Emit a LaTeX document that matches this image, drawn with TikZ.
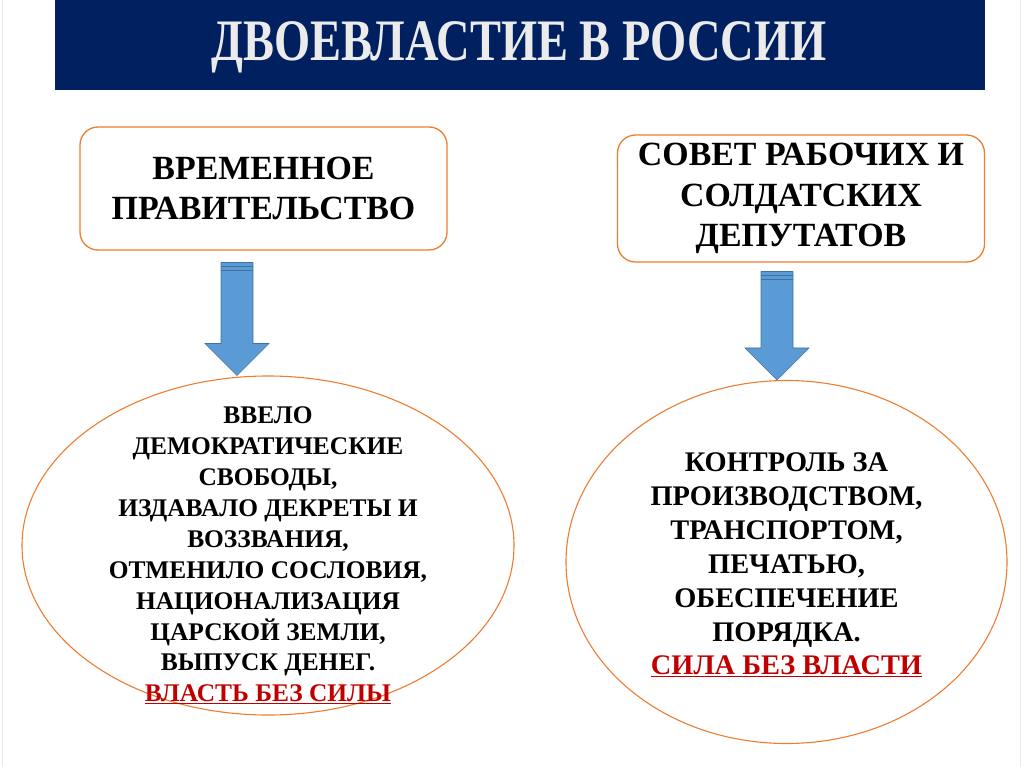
\documentclass[tikz,border=0pt]{standalone}
\usepackage{fontspec}
\setmainfont{Liberation Serif}
\usetikzlibrary{shapes.geometric,calc,positioning}

\definecolor{titlenavy}{HTML}{002060}
\definecolor{boxorange}{HTML}{ED7D31}
\definecolor{arrowblue}{HTML}{5B9BD5}
\definecolor{arrowedge}{HTML}{41719C}
\definecolor{slogred}{HTML}{C00000}

\tikzset{
  orgbox/.style={draw=boxorange, line width=1.3bp, rounded corners=18bp, fill=white,
    minimum width=367bp, minimum height=123bp, inner sep=2bp, align=center,
    font=\fontsize{34}{40}\selectfont\bfseries},
  resultoval/.style={draw=boxorange, line width=1.1bp, ellipse, inner sep=0pt},
  bodytext/.style={align=center, inner sep=0pt},
  blockarrow/.style={fill=arrowblue, draw=arrowedge, line width=0.6bp},
}

% block arrow from #1 (top of shaft) down to #2 (tip)
\newcommand{\powerarrow}[2]{%
  \draw[blockarrow] let \p1=(#1), \p2=(#2) in
    (\x1-16bp,\y1) -- (\x1+16bp,\y1) -- (\x1+16bp,\y2+32bp) -- (\x1+32bp,\y2+32bp)
    -- (\x1,\y2) -- (\x1-32bp,\y2+32bp) -- (\x1-16bp,\y2+32bp) -- cycle;
  \foreach \s in {0,4,8}
    \draw[arrowedge, line width=0.9bp] let \p1=(#1) in
      (\x1-16bp,\y1-\s*1bp) -- (\x1+16bp,\y1-\s*1bp);
}

\begin{document}
\begin{tikzpicture}[x=1bp, y=-1bp]
\useasboundingbox (0,0) rectangle (1024,767);

% Slide edges
\draw[black!8, line width=1bp] (2,0) -- (2,767) (1020,0) -- (1020,767);

% Title bar
\fill[titlenavy] (55,0) rectangle (985,90);
\node[text=white!92!black, xscale=0.79, font=\fontsize{59}{60}\selectfont\bfseries] (title) at (519,47) {ДВОЕВЛАСТИЕ В РОССИИ};

% The two powers
\node[orgbox] (vp) at (263.5,188.5) {ВРЕМЕННОЕ\\ПРАВИТЕЛЬСТВО};
\node[orgbox, minimum height=127bp, font=\fontsize{34}{41}\selectfont\bfseries] (sovet) at (801,198.5) {СОВЕТ РАБОЧИХ И\\СОЛДАТСКИХ\\ДЕПУТАТОВ};

% What each of them did
\node[resultoval, minimum width=492bp, minimum height=339bp] (vlast) at (268,545.5) {};
\node[resultoval, minimum width=441bp, minimum height=363bp] (sila) at (786.5,562) {};

\node[bodytext, font=\fontsize{25.5}{31}\selectfont\bfseries] (vlasttext) at ($(vlast.center)+(0,10)$)
  {ВВЕЛО\\ДЕМОКРАТИЧЕСКИЕ\\СВОБОДЫ,\\ИЗДАВАЛО ДЕКРЕТЫ И\\ВОЗЗВАНИЯ,\\ОТМЕНИЛО СОСЛОВИЯ,\\НАЦИОНАЛИЗАЦИЯ\\ЦАРСКОЙ ЗЕМЛИ,\\ВЫПУСК ДЕНЕГ.\\\textcolor{slogred}{\underline{ВЛАСТЬ БЕЗ СИЛЫ}}};
\node[bodytext, font=\fontsize{28.5}{34}\selectfont\bfseries] (silatext) at ($(sila.center)+(0,3)$)
  {КОНТРОЛЬ ЗА\\ПРОИЗВОДСТВОМ,\\ТРАНСПОРТОМ,\\ПЕЧАТЬЮ,\\ОБЕСПЕЧЕНИЕ\\ПОРЯДКА.\\\textcolor{slogred}{\underline{СИЛА БЕЗ ВЛАСТИ}}};

% Arrows
\coordinate (vptop) at ($(vp.south)+(-26.5,12)$);
\coordinate (vptip) at (vptop |- vlast.north);
\coordinate (sovettop) at ($(sovet.south)+(-24,9)$);
\coordinate (sovettip) at (sovettop |- sila.north);
\powerarrow{vptop}{vptip}
\powerarrow{sovettop}{sovettip}

\end{tikzpicture}
\end{document}
